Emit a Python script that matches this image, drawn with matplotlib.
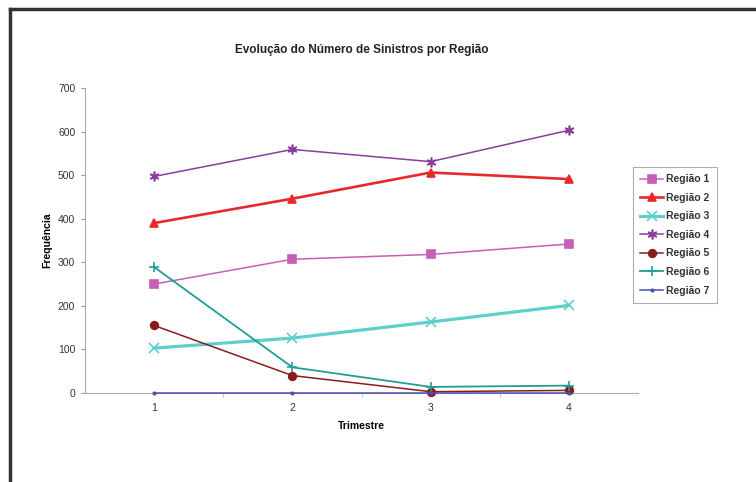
import matplotlib.pyplot as plt
from matplotlib.lines import Line2D

plt.rcParams['font.family'] = ['Liberation Sans', 'DejaVu Sans']

trimestres = [1, 2, 3, 4]
regiao1 = [250, 307, 318, 342]
regiao2 = [390, 446, 506, 491]
regiao3 = [103, 126, 163, 201]
regiao4 = [497, 559, 531, 603]
regiao5 = [155, 40, 3, 6]
regiao6 = [289, 59, 14, 17]
regiao7 = [0, 0, 0, 0]

series = [
    ("Região 1", regiao1, "#C65FB5", "s", 1.1, 5.5),
    ("Região 2", regiao2, "#E8282B", "^", 1.9, 5.5),
    ("Região 3", regiao3, "#5FCFCB", "x", 2.3, 7),
    ("Região 4", regiao4, "#8C3C9C", (6, 2, 0), 1.1, 7),
    ("Região 5", regiao5, "#8A1B1E", "o", 1.1, 5.5),
    ("Região 6", regiao6, "#219E94", "+", 1.3, 7),
    ("Região 7", regiao7, "#4A4FB0", ".", 1.1, 3.5),
]

fig = plt.figure(figsize=(7.56, 4.82), dpi=100)
ax = fig.add_axes([85 / 756, 89 / 482, 553 / 756, 305 / 482])

for nome, vals, cor, mk, lw, ms in series:
    ax.plot(trimestres, vals, color=cor, marker=mk, linewidth=lw,
            markersize=ms, markeredgecolor=cor, markerfacecolor=cor,
            markeredgewidth=1.2, label=nome, clip_on=False, zorder=3)

ax.set_xlim(0.5, 4.5)
ax.set_ylim(0, 700)
ax.set_xticks(trimestres)
ax.set_yticks(range(0, 701, 100))
ax.tick_params(axis='x', length=0, labelsize=7.5, pad=7, colors='#333333')
ax.tick_params(axis='y', length=3, labelsize=7.5, pad=4, colors='#999999',
               labelcolor='#333333')
ax.set_xticks([1.5, 2.5, 3.5], minor=True)
ax.tick_params(axis='x', which='minor', length=3, color='#bbbbbb')

for s in ['top', 'right']:
    ax.spines[s].set_visible(False)
ax.spines['left'].set_color('#aaaaaa')
ax.spines['bottom'].set_color('#aaaaaa')

ax.set_title("Evolução do Número de Sinistros por Região", fontsize=8.5,
             fontweight='bold', pad=25, color='#222222')
ax.set_xlabel("Trimestre", fontsize=7.5, fontweight='bold', labelpad=6)
ax.set_ylabel("Frequência", fontsize=7.5, fontweight='bold', labelpad=4)

leg = fig.legend(loc='upper left', bbox_to_anchor=(633 / 756, 1 - 167 / 482),
                 fontsize=7.5, frameon=True, fancybox=False,
                 edgecolor='#999999', handlelength=2.2, labelspacing=0.82,
                 borderpad=0.7, handletextpad=0.3, borderaxespad=0)
leg.get_frame().set_linewidth(0.8)
for t in leg.get_texts():
    t.set_fontweight('bold')
    t.set_color('#333333')

# moldura do gráfico (topo e esquerda)
fig.add_artist(Line2D([10 / 756, 1], [1 - 9 / 482, 1 - 9 / 482],
                      color='#333333', linewidth=2.5))
fig.add_artist(Line2D([10 / 756, 10 / 756], [0, 1 - 9 / 482],
                      color='#333333', linewidth=2.5))

fig.savefig("out.png", dpi=100)
